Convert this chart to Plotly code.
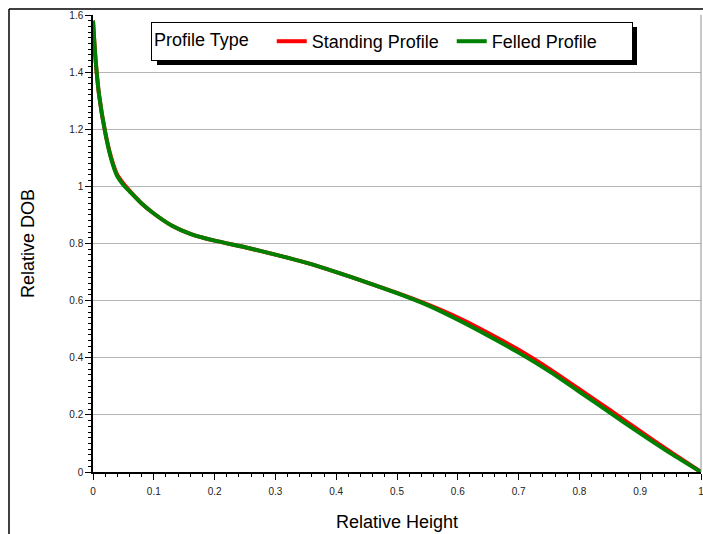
import plotly.graph_objects as go

# Relative stem profile: relative diameter outside bark vs relative height
rel_height = [0.0, 0.004, 0.01, 0.02, 0.03, 0.04, 0.05, 0.06, 0.08, 0.10, 0.13, 0.16,
              0.20, 0.25, 0.30, 0.35, 0.40, 0.45, 0.50, 0.55, 0.60, 0.65, 0.70,
              0.75, 0.80, 0.85, 0.90, 0.95, 1.0]
standing_dob = [1.58, 1.45, 1.32, 1.19, 1.10, 1.04, 1.01, 0.985, 0.94, 0.905, 0.862, 0.834,
                0.81, 0.787, 0.761, 0.733, 0.700, 0.664, 0.627, 0.587, 0.541, 0.487, 0.428,
                0.362, 0.290, 0.217, 0.143, 0.070, 0.0]
felled_dob = [1.58, 1.45, 1.32, 1.19, 1.095, 1.035, 1.005, 0.983, 0.94, 0.905, 0.862, 0.834,
              0.81, 0.787, 0.761, 0.733, 0.700, 0.664, 0.626, 0.584, 0.533, 0.477, 0.418,
              0.353, 0.281, 0.208, 0.135, 0.065, 0.0]

series_names = ["Standing Profile", "Felled Profile"]
series_colors = ["#ff0000", "#008000"]

FONT = "Liberation Sans, Arial, sans-serif"

fig = go.Figure()
for name, ys, col in zip(series_names, [standing_dob, felled_dob], series_colors):
    fig.add_trace(go.Scatter(
        x=rel_height, y=ys, mode="lines", name=name,
        line=dict(color=col, width=4, shape="spline", smoothing=0.6),
    ))

# pixel -> paper helpers for the decorative frame
L, R, T, B, W, H = 93, 2, 15, 62, 703, 534
pw, ph = W - L - R, H - T - B


def px(x):
    return (x - L) / pw


def py(y):
    return (H - B - y) / ph


shapes = [
    # outer frame (top and left)
    dict(type="line", xref="paper", yref="paper", x0=px(9), x1=px(704), y0=py(9), y1=py(9),
         line=dict(color="black", width=1.5)),
    dict(type="line", xref="paper", yref="paper", x0=px(9), x1=px(9), y0=py(9), y1=py(540),
         line=dict(color="black", width=1.5)),
    # right border of plot area
    dict(type="line", xref="paper", yref="paper", x0=1, x1=1, y0=0, y1=1,
         line=dict(color="#909090", width=1)),
    # legend drop shadow
    dict(type="rect", xref="paper", yref="paper", x0=px(157), x1=px(637), y0=py(65), y1=py(27),
         fillcolor="black", line=dict(width=0), layer="above"),
]

fig.update_layout(
    width=W, height=H,
    margin=dict(l=L, r=R, t=T, b=B, autoexpand=False),
    plot_bgcolor="white", paper_bgcolor="white",
    font=dict(family=FONT, color="black"),
    shapes=shapes,
    showlegend=True,
    legend=dict(
        orientation="h", x=px(151), y=py(22), xanchor="left", yanchor="top",
        bgcolor="white", bordercolor="black", borderwidth=1,
        font=dict(size=18, family=FONT),
        title=dict(text="Profile Type\u00a0\u00a0\u00a0", side="left",
                   font=dict(size=18, family=FONT)),
        itemwidth=30, entrywidth=135,
    ),
    xaxis=dict(
        range=[0, 1], dtick=0.1, tick0=0, showgrid=False, zeroline=False,
        showline=True, linecolor="black", linewidth=1.5,
        ticks="outside", ticklen=6, tickcolor="black", tickwidth=1,
        minor=dict(dtick=0.02, ticks="outside", ticklen=3, tickcolor="black"),
        tickfont=dict(size=10, color="#222", family=FONT), ticklabelstandoff=3,
        ticklabeloverflow="allow",
        title=dict(text="Relative Height", font=dict(size=18, family=FONT), standoff=20),
    ),
    yaxis=dict(
        range=[0, 1.6], dtick=0.2, tick0=0, showgrid=True, gridcolor="#b4b4b4", gridwidth=1.2,
        zeroline=False, showline=True, linecolor="black", linewidth=1.5,
        ticks="outside", ticklen=6, tickcolor="black", tickwidth=1,
        minor=dict(dtick=0.02, ticks="outside", ticklen=3, tickcolor="black", showgrid=False),
        tickfont=dict(size=10, color="#222", family=FONT), ticklabeloverflow="allow",
        title=dict(text="Relative DOB", font=dict(size=18, family=FONT), standoff=30),
    ),
)

fig.write_html("out.html")
